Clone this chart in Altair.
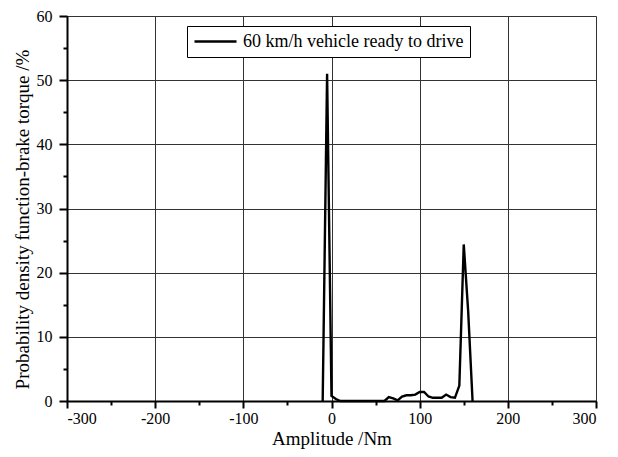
import altair as alt
import pandas as pd

# Amplitude bins (Nm) and probability density (%)
amplitude = [-10, -5, 0, 5, 10, 15, 20, 25, 30, 35, 40, 45, 50, 55, 60, 65, 70, 75,
             80, 85, 90, 95, 100, 105, 110, 115, 120, 125, 130, 135, 140, 145, 150, 155, 160]
density = [0, 51, 0.8, 0.3, 0, 0, 0, 0, 0, 0, 0, 0, 0, 0, 0, 0.6, 0.4, 0.1,
           0.7, 0.9, 0.9, 1.0, 1.4, 1.4, 0.7, 0.5, 0.5, 0.5, 1.0, 0.6, 0.5, 2.4, 24.4, 14, 0]
series_name = "60 km/h vehicle ready to drive"

x_ticks = [-300, -250, -200, -150, -100, -50, 0, 50, 100, 150, 200, 250, 300]
y_ticks = [0, 5, 10, 15, 20, 25, 30, 35, 40, 45, 50, 55, 60]

df = pd.DataFrame({"amp": amplitude, "pdf": density, "series": [series_name] * len(amplitude)})

FONT = "'Liberation Serif', 'Times New Roman', serif"

x_axis = alt.Axis(
    values=x_ticks,
    labelExpr="datum.value % 100 === 0 ? '' + datum.value : ''",
    tickSize={"condition": {"test": "datum.value % 100 === 0", "value": 7}, "value": 4},
    gridOpacity={"condition": {"test": "datum.value % 100 === 0", "value": 1}, "value": 0},
    grid=True, gridColor="#333333", gridWidth=1,
    domainColor="black", domainWidth=2, tickColor="black", tickWidth=2,
    labelFont=FONT, labelFontSize=16, labelColor="black", labelPadding=2,
    title="Amplitude /Nm", titleFont=FONT, titleFontSize=19, titleFontWeight="normal",
    titleColor="black", titleY=37, titleBaseline="middle",
)
y_axis = alt.Axis(
    values=y_ticks,
    labelExpr="datum.value % 10 === 0 ? '' + datum.value : ''",
    tickSize={"condition": {"test": "datum.value % 10 === 0", "value": 8}, "value": 4},
    gridOpacity={"condition": {"test": "datum.value % 10 === 0", "value": 1}, "value": 0},
    grid=True, gridColor="#333333", gridWidth=1,
    domainColor="black", domainWidth=2, tickColor="black", tickWidth=2,
    labelFont=FONT, labelFontSize=16, labelColor="black", labelPadding=7,
    title="Probability density function-brake torque /%", titleFont=FONT, titleFontSize=19,
    titleFontWeight="normal", titleColor="black",
    titleX=-45, titleY=203, titleAngle=-90, titleAlign="center", titleBaseline="middle",
)

chart = alt.Chart(df).mark_line(strokeWidth=2.4).encode(
    x=alt.X("amp:Q", scale=alt.Scale(domain=[-300, 300], nice=False, zero=False), axis=x_axis),
    y=alt.Y("pdf:Q", scale=alt.Scale(domain=[0, 60], nice=False), axis=y_axis),
    color=alt.Color(
        "series:N",
        scale=alt.Scale(range=["black"]),
        legend=alt.Legend(
            title=None, orient="none", legendX=120, legendY=10,
            symbolType="stroke", symbolSize=1764, symbolStrokeWidth=2.5,
            labelFont=FONT, labelFontSize=18, labelColor="black", labelOffset=5,
            labelLimit=0, strokeColor="black", fillColor="white", padding=6,
            clipHeight=19,
        ),
    ),
).properties(
    width=529, height=385,
    padding={"left": 59, "top": 8, "right": 14, "bottom": 50},
    autosize="none",
).configure_view(stroke="black", strokeWidth=2).configure(background="white")

chart.save("out.html", embed_options={"renderer": "svg", "actions": False})
